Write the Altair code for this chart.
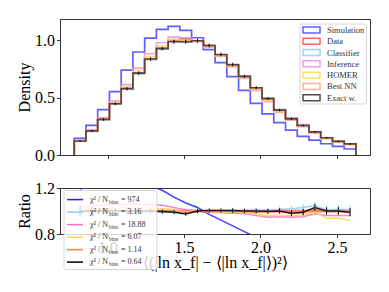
import altair as alt
import numpy as np
import pandas as pd

# ---------------- data ----------------
hist_lo, hist_hi, n_bins = 0.782, 2.624, 24
x_domain = [0.689, 2.716]

series = ["Simulation", "Data", "Classifier", "Inference", "HOMER", "Best NN", "Exact w."]
top_colors = ["#2a2aff", "#ff2e2e", "#7cc8f8", "#ea7aea", "#ffcf3f", "#ff9a70", "#111111"]
top_opacity = [0.75, 0.65, 0.7, 0.7, 0.75, 0.7, 0.9]

data_hist = [0.122, 0.209, 0.310, 0.446, 0.577, 0.713, 0.835, 0.930, 0.995, 1.010, 0.994, 0.948,
             0.870, 0.783, 0.684, 0.585, 0.492, 0.391, 0.320, 0.259, 0.195, 0.150, 0.119, 0.097]
sim_hist = [0.145, 0.258, 0.394, 0.551, 0.739, 0.896, 1.017, 1.093, 1.119, 1.084, 1.020, 0.916,
            0.803, 0.681, 0.562, 0.449, 0.357, 0.281, 0.217, 0.162, 0.130, 0.098, 0.075, 0.052]

ratio_sim = [1.19, 1.23, 1.27, 1.24, 1.28, 1.26, 1.22, 1.18, 1.12, 1.07, 1.03, 0.97,
             0.92, 0.87, 0.82, 0.77, 0.73, 0.72, 0.68, 0.63, 0.67, 0.65, 0.63, 0.54]
ratio_classifier = [0.985, 0.985, 0.985, 0.99, 0.99, 0.99, 0.99, 0.99, 0.99, 0.985, 0.995, 1.0,
                    1.0, 1.0, 1.0, 1.0, 1.0, 1.015, 1.02, 1.03, 1.048, 1.01, 1.015, 1.01]
ratio_inference = [1.035, 1.045, 1.05, 1.055, 1.06, 1.06, 1.055, 1.05, 1.03, 1.01, 1.0, 0.99,
                   0.985, 0.98, 0.975, 0.96, 0.945, 0.95, 0.945, 0.95, 0.975, 0.96, 0.96, 0.96]
ratio_homer = [1.01, 1.015, 1.02, 1.025, 1.03, 1.03, 1.025, 1.02, 1.01, 0.99, 1.0, 0.995,
               0.99, 0.99, 0.985, 0.975, 0.96, 0.96, 0.96, 0.965, 0.99, 0.937, 0.94, 0.92]
ratio_bestnn = [1.0, 1.0, 1.005, 1.005, 1.0, 1.0, 1.0, 1.0, 0.995, 0.98, 0.995, 1.0,
                1.0, 0.995, 0.995, 0.99, 0.99, 0.995, 0.98, 0.985, 1.02, 0.995, 0.995, 0.985]
ratio_exact = [1.0, 1.0, 1.0, 1.0, 1.0, 1.0, 1.0, 0.995, 0.99, 0.975, 1.0, 1.005,
               1.005, 1.005, 1.0, 1.0, 0.997, 1.0, 0.98, 0.99, 1.03, 1.0, 1.0, 0.99]

err_exact_top = [0.008, 0.010, 0.012, 0.013, 0.014, 0.015, 0.016, 0.016, 0.017, 0.017, 0.017, 0.016,
                 0.016, 0.015, 0.014, 0.013, 0.012, 0.011, 0.010, 0.009, 0.008, 0.007, 0.006, 0.006]
err_ratio = [0.045, 0.035, 0.028, 0.024, 0.021, 0.019, 0.018, 0.017, 0.017, 0.017, 0.017, 0.017,
             0.018, 0.019, 0.020, 0.021, 0.022, 0.024, 0.026, 0.028, 0.030, 0.032, 0.034, 0.036]
data_band = 0.015

ratio_series = ["Simulation", "Classifier", "Inference", "HOMER", "Best NN", "Exact w."]
ratio_colors = ["#2020ff", "#87cefa", "#ff6ec7", "#ffd24d", "#ff7f3f", "#000000"]
chi2_values = ["974", "3.16", "18.88", "6.07", "1.14", "0.64"]

# ---------------- tables ----------------
edges = np.linspace(hist_lo, hist_hi, n_bins + 1)
centers = (edges[:-1] + edges[1:]) / 2
ratios = {"Simulation": ratio_sim, "Classifier": ratio_classifier, "Inference": ratio_inference,
          "HOMER": ratio_homer, "Best NN": ratio_bestnn, "Exact w.": ratio_exact}
hists = {"Simulation": sim_hist, "Data": data_hist}
for s in ["Classifier", "Inference", "HOMER", "Best NN", "Exact w."]:
    hists[s] = list(np.array(data_hist) * np.array(ratios[s]))

rows = []
for s in series:
    h = hists[s]
    pts = [(edges[0], 0.0)] + [(edges[i], h[i]) for i in range(n_bins)] + \
          [(edges[-1], h[-1]), (edges[-1], 0.0)]
    for k, (xv, yv) in enumerate(pts):
        rows.append({"series": s, "x": xv, "y": yv, "k": k})
top_df = pd.DataFrame(rows)

err_top_df = pd.DataFrame({"x": centers,
                           "lo": np.array(hists["Exact w."]) - np.array(err_exact_top),
                           "hi": np.array(hists["Exact w."]) + np.array(err_exact_top)})

rrows = []
for s in ratio_series:
    for i in range(n_bins):
        rrows.append({"series": s, "x": centers[i], "r": ratios[s][i]})
ratio_df = pd.DataFrame(rrows)

rerr_rows = []
for s in ["Classifier", "Exact w."]:
    for i in range(n_bins):
        rerr_rows.append({"series": s, "x": centers[i],
                          "lo": ratios[s][i] - err_ratio[i], "hi": ratios[s][i] + err_ratio[i]})
rerr_df = pd.DataFrame(rerr_rows)

band_df = pd.DataFrame({"x": centers, "lo": 1 - data_band, "hi": 1 + data_band, "one": 1.0})

top_leg_df = pd.DataFrame({"row": list(range(7)), "label": series, "color": top_colors})
leg_df = pd.DataFrame({"row": list(range(6)), "color": ratio_colors,
                       "pre": ["χ² / N"] * 6, "sub": ["bins"] * 6,
                       "post": ["= " + c for c in chi2_values]})

# ---------------- chart ----------------
FONT = "Liberation Serif"
xscale = alt.Scale(domain=x_domain, nice=False, zero=False)
xticks = [1.0, 1.5, 2.0, 2.5]

top_lines = alt.Chart(top_df).mark_line(interpolate="step-after", strokeWidth=1.7).encode(
    x=alt.X("x:Q", scale=xscale, axis=alt.Axis(values=xticks, labels=False, title=None)),
    y=alt.Y("y:Q", scale=alt.Scale(domain=[0, 1.183], nice=False),
            axis=alt.Axis(values=[0, 0.5, 1.0], format=".1f", title="Density",
                          titleX=-30.5, titleY=68, titleBaseline="alphabetic", titleAlign="center")),
    color=alt.Color("series:N", scale=alt.Scale(domain=series, range=top_colors), legend=None),
    opacity=alt.Opacity("series:N", scale=alt.Scale(domain=series, range=top_opacity), legend=None),
    order="k:Q",
)
top_err = alt.Chart(err_top_df).mark_rule(color="black", strokeWidth=1).encode(
    x="x:Q", y="lo:Q", y2="hi:Q")
top_data = alt.layer(top_lines, top_err)

trow = alt.Scale(domain=[0, 6], range=[11, 78.7])
top_box = alt.Chart(pd.DataFrame({"a": [0]})).mark_rect(
    fill="white", fillOpacity=0.8, stroke="#cccccc", strokeOpacity=0.8, cornerRadius=2).encode(
    x=alt.value(240), x2=alt.value(306.5), y=alt.value(5), y2=alt.value(85))
top_sym = alt.Chart(top_leg_df).mark_point(shape="M-1,-0.35H1V0.35H-1Z", size=289, filled=False,
                                           strokeWidth=1.5, opacity=0.75).encode(
    x=alt.value(251.5), y=alt.Y("row:Q", scale=trow, axis=None),
    color=alt.Color("color:N", scale=None))
top_lab = alt.Chart(top_leg_df).mark_text(align="left", baseline="middle", font=FONT, fontSize=8.5,
                                          color="#333333").encode(
    x=alt.value(267), y=alt.Y("row:Q", scale=trow, axis=None), text="label:N")
top_legend = alt.layer(top_box, top_sym, top_lab)
top = alt.layer(top_data, top_legend).resolve_scale(y="independent").properties(width=310, height=136)

rscale = alt.Scale(domain=[0.8, 1.2], nice=False)
band = alt.Chart(band_df).mark_area(color="#ff3b3b", opacity=0.35, clip=True).encode(
    x=alt.X("x:Q", scale=xscale, axis=alt.Axis(values=xticks, format=".1f",
                                               title="⟨(|ln x_f| − ⟨|ln x_f|⟩)²⟩",
                                               titleY=33, titleBaseline="alphabetic")),
    y=alt.Y("lo:Q", scale=rscale, axis=alt.Axis(values=[0.8, 1.0, 1.2], format=".1f", title="Ratio",
                                                titleX=-30.5, titleY=23, titleBaseline="alphabetic",
                                                titleAlign="center")),
    y2="hi:Q")
band_line = alt.Chart(band_df).mark_line(color="#ff3b3b", strokeWidth=1.2, clip=True).encode(
    x="x:Q", y="one:Q")
ratio_lines = alt.Chart(ratio_df).mark_line(strokeWidth=1.5, opacity=0.85, clip=True).encode(
    x="x:Q", y="r:Q",
    color=alt.Color("series:N", scale=alt.Scale(domain=ratio_series, range=ratio_colors), legend=None))
ratio_err = alt.Chart(rerr_df).mark_rule(strokeWidth=1, clip=True).encode(
    x="x:Q", y="lo:Q", y2="hi:Q",
    color=alt.Color("series:N", scale=alt.Scale(domain=ratio_series, range=ratio_colors), legend=None))
inner = alt.layer(band, band_line, ratio_lines, ratio_err)

rowscale = alt.Scale(domain=[0, 5], range=[11.6, 74.1])
leg_box = alt.Chart(pd.DataFrame({"a": [0]})).mark_rect(
    fill="white", fillOpacity=0.8, stroke="#cccccc", strokeOpacity=0.8, cornerRadius=2).encode(
    x=alt.value(4), x2=alt.value(97), y=alt.value(2.5), y2=alt.value(81.5))
leg_lines = alt.Chart(leg_df).mark_rule(strokeWidth=1.5).encode(
    x=alt.value(7), x2=alt.value(23),
    y=alt.Y("row:Q", scale=rowscale, axis=None),
    color=alt.Color("color:N", scale=None))
leg_pre = alt.Chart(leg_df).mark_text(align="left", baseline="middle", font=FONT, fontSize=8,
                                      color="#333333").encode(
    x=alt.value(30), y=alt.Y("row:Q", scale=rowscale, axis=None), text="pre:N")
leg_sub = alt.Chart(leg_df).mark_text(align="left", baseline="middle", font=FONT, fontSize=5.5,
                                      color="#333333", dy=2).encode(
    x=alt.value(49), y=alt.Y("row:Q", scale=rowscale, axis=None), text="sub:N")
leg_post = alt.Chart(leg_df).mark_text(align="left", baseline="middle", font=FONT, fontSize=8,
                                       color="#333333").encode(
    x=alt.value(61), y=alt.Y("row:Q", scale=rowscale, axis=None), text="post:N")
legend_layer = alt.layer(leg_box, leg_lines, leg_pre, leg_sub, leg_post)

bottom = alt.layer(inner, legend_layer).resolve_scale(y="independent").properties(width=310, height=46)

chart = alt.vconcat(top, bottom, spacing=33, bounds="flush").resolve_scale(
    color="independent", opacity="independent").properties(
    padding={"left": 8, "top": 10, "right": 5, "bottom": 5}
).configure(font=FONT).configure_axis(
    labelFontSize=16, titleFontSize=16, titleFontWeight="normal", labelColor="black",
    titleColor="black", tickColor="#333333", domainColor="#333333", tickSize=3.5,
    grid=False, labelPadding=2, titlePadding=1, zindex=0, labelFont=FONT, titleFont=FONT
).configure_view(stroke="#333333", strokeWidth=1)

chart.save("out.html", embed_options={"renderer": "svg", "actions": False})
